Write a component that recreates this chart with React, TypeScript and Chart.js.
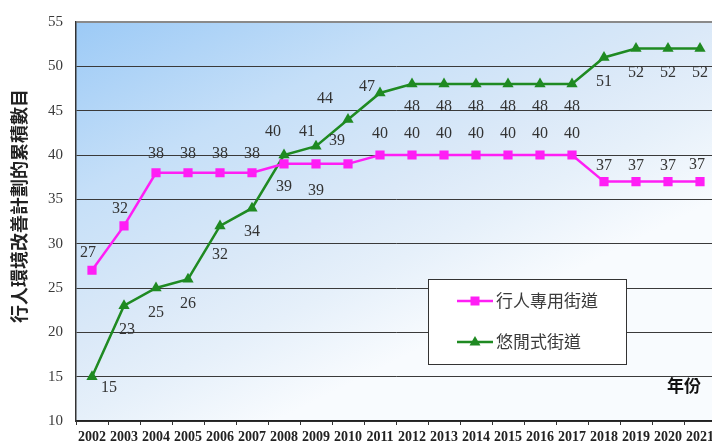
import React, { useEffect, useRef } from "react";
import { Chart, registerables } from "chart.js";

Chart.register(...registerables);

const years = ["2002","2003","2004","2005","2006","2007","2008","2009","2010","2011","2012","2013","2014","2015","2016","2017","2018","2019","2020","2021"];
const pedestrianStreets = [27, 32, 38, 38, 38, 38, 39, 39, 39, 40, 40, 40, 40, 40, 40, 40, 37, 37, 37, 37];
const leisureStreets = [15, 23, 25, 26, 32, 34, 40, 41, 44, 47, 48, 48, 48, 48, 48, 48, 51, 52, 52, 52];
const seriesNames = ["行人專用街道", "悠閒式街道"];
const yTitle = "行人環境改善計劃的累積數目";
const xTitle = "年份";

// label offsets (style only) [dx, dy]
const pinkLabelOffsets: [number, number][] = [
  [-4, -17], [-4, -17], [0, -19], [0, -19], [0, -19], [0, -19], [0, 23], [0, 27], [-11, -23],
  [0, -21], [0, -21], [0, -21], [0, -21], [0, -21], [0, -21], [0, -21],
  [0, -16], [0, -16], [0, -16], [-3, -17],
];
const greenLabelOffsets: [number, number][] = [
  [17, 11], [3, 24], [0, 25], [0, 25], [0, 29], [0, 24], [-11, -23], [-9, -14], [-23, -21], [-13, -6],
  [0, 23], [0, 23], [0, 23], [0, 23], [0, 23], [0, 23],
  [0, 24], [0, 24], [0, 24], [0, 24],
];

const PINK = "#ff1ef5";
const GREEN = "#1f8a22";
const CW = 730;
const CH = 450;

const overlay = {
  id: "overlay",
  beforeDraw(chart: any) {
    const { ctx, chartArea: a } = chart;
    ctx.save();
    const g = ctx.createLinearGradient(a.left, a.top, a.left + 200, a.bottom);
    g.addColorStop(0, "#9ccaf6");
    g.addColorStop(0.35, "#c5dff8");
    g.addColorStop(0.65, "#dbe9f8");
    g.addColorStop(0.8, "#e6f0fa");
    g.addColorStop(1, "#f8fbfe");
    ctx.fillStyle = g;
    ctx.fillRect(a.left, a.top, a.right - a.left, a.bottom - a.top);
    ctx.restore();
  },
  afterDatasetsDraw(chart: any) {
    const { ctx } = chart;
    ctx.save();
    // data labels
    ctx.font = '16px "Liberation Serif"';
    ctx.fillStyle = "#333333";
    ctx.textAlign = "center";
    ctx.textBaseline = "middle";
    const offs = [pinkLabelOffsets, greenLabelOffsets];
    chart.data.datasets.forEach((ds: any, di: number) => {
      const meta = chart.getDatasetMeta(di);
      meta.data.forEach((pt: any, i: number) => {
        const o = offs[di][i];
        ctx.fillText(String(ds.data[i]), pt.x + o[0], pt.y + o[1]);
      });
    });

    // legend box
    const lx = 428, ly = 279, lw = 198, lh = 85;
    ctx.fillStyle = "#ffffff";
    ctx.fillRect(lx, ly, lw, lh);
    ctx.strokeStyle = "#333333";
    ctx.lineWidth = 1;
    ctx.strokeRect(lx + 0.5, ly + 0.5, lw, lh);
    const rows = [301, 342];
    chart.data.datasets.forEach((ds: any, di: number) => {
      const y = rows[di];
      ctx.strokeStyle = ds.borderColor;
      ctx.lineWidth = 2.5;
      ctx.beginPath();
      ctx.moveTo(457, y);
      ctx.lineTo(493, y);
      ctx.stroke();
      ctx.fillStyle = ds.borderColor;
      ctx.beginPath();
      if (di === 0) {
        ctx.rect(475 - 4.5, y - 4.5, 9, 9);
      } else {
        ctx.moveTo(475, y - 6);
        ctx.lineTo(480.5, y + 3.5);
        ctx.lineTo(469.5, y + 3.5);
        ctx.closePath();
      }
      ctx.fill();
      ctx.fillStyle = "#3a3a3a";
      ctx.font = '17px "Noto Sans CJK TC"';
      ctx.textAlign = "left";
      ctx.textBaseline = "middle";
      ctx.fillText(ds.label, 496, y);
    });

    // x title
    ctx.font = 'bold 17px "Noto Sans CJK TC"';
    ctx.fillStyle = "#111111";
    ctx.textAlign = "center";
    ctx.textBaseline = "middle";
    ctx.fillText(xTitle, 684, 386);

    // y title
    ctx.translate(19, 206);
    ctx.rotate(-Math.PI / 2);
    ctx.font = 'bold 18px "Noto Sans CJK TC"';
    ctx.fillStyle = "#222222";
    ctx.fillText(yTitle, 0, 0);
    ctx.restore();
  },
};

export default function App() {
  const ref = useRef<HTMLCanvasElement>(null);
  useEffect(() => {
    if (!ref.current) return;
    const chart = new Chart(ref.current, {
      type: "line",
      data: {
        labels: years,
        datasets: [
          {
            label: seriesNames[0],
            data: pedestrianStreets,
            borderColor: PINK,
            backgroundColor: PINK,
            borderWidth: 2.5,
            pointStyle: "rect",
            pointRadius: 6.5,
            pointBorderWidth: 0,
            pointBackgroundColor: PINK,
            tension: 0,
          },
          {
            label: seriesNames[1],
            data: leisureStreets,
            borderColor: GREEN,
            backgroundColor: GREEN,
            borderWidth: 2.5,
            pointStyle: "triangle",
            pointRadius: 6.5,
            pointBorderWidth: 0,
            pointBackgroundColor: GREEN,
            tension: 0,
          },
        ],
      },
      plugins: [overlay],
      options: {
        animation: false,
        responsive: false,
        devicePixelRatio: 1,
        layout: { padding: { left: 0, top: 18, right: CW - 716, bottom: 0 } },
        plugins: { legend: { display: false }, tooltip: { enabled: false } },
        scales: {
          x: {
            type: "category",
            offset: true,
            afterFit: (s: any) => { s.height = CH - 421; },
            grid: { drawOnChartArea: false, drawTicks: true, tickLength: 4, color: "#333333", offset: true },
            border: { display: true, color: "#222222", width: 1.5 },
            ticks: {
              autoSkip: false,
              maxRotation: 0,
              minRotation: 0,
              padding: 4,
              color: "#222222",
              font: { family: "Liberation Serif", size: 14, weight: "bold" },
            },
          },
          y: {
            min: 10,
            max: 55,
            afterFit: (s: any) => { s.width = 76; },
            grid: {
              drawTicks: false,
              color: (c: any) => (c.tick && c.tick.value === 55 ? "#8a8a8a" : "#3a3a3a"),
              lineWidth: (c: any) => (c.tick && c.tick.value === 55 ? 2 : 1),
            },
            border: { display: true, color: "#333333", width: 1.5 },
            ticks: {
              stepSize: 5,
              padding: 13,
              color: "#3a3a3a",
              font: { family: "Liberation Serif", size: 15 },
            },
          },
        },
      },
    });
    return () => chart.destroy();
  }, []);
  return (
    <div style={{ position: "fixed", left: 0, top: 0, width: 712, height: 441, overflow: "hidden", background: "#fff" }}>
      <canvas ref={ref} width={CW} height={CH} style={{ width: CW, height: CH, display: "block" }} />
    </div>
  );
}
